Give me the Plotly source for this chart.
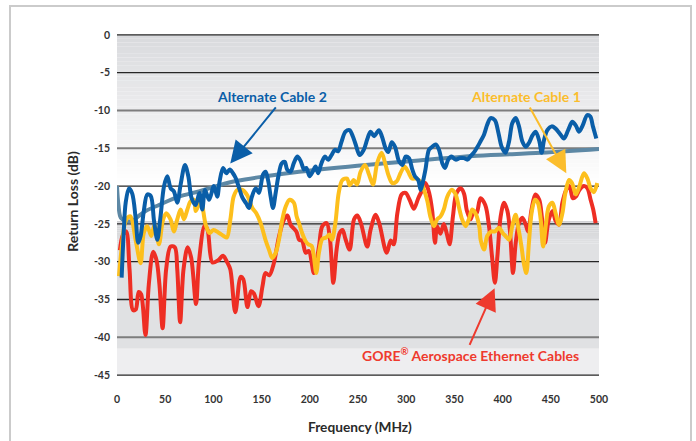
import plotly.graph_objects as go

# ---------------- data ----------------
FREQ_GORE = [3, 6, 9.5, 13, 16.6, 19.5, 22.5, 25, 29.5, 33, 37.5, 41, 44, 47.3, 51, 55.5, 60, 62.5,
             65.5, 69, 73.3, 77, 82, 85, 91, 94, 99, 105, 110, 114, 117.5, 122.7, 128.3, 131, 135.3,
             139, 142, 146.8, 151, 154, 158, 162.5, 168, 173, 176.7, 180, 186, 189, 192, 195.7, 199,
             204.3, 209.5, 213, 217.5, 221, 224.4, 227.8, 231, 234, 237, 241.3, 245.9, 249.3, 253,
             259.6, 263, 268.3, 272, 279.7, 284, 287, 290.8, 295.3, 299.4, 303.5, 308, 312.5, 316.7,
             320, 324, 327, 329.9, 332, 335.5, 339, 342.5, 345, 348.5, 352, 356.5, 360, 363, 366.8,
             370, 373, 377, 382, 385.9, 389, 392, 394.6, 398, 401.5, 405, 407.8, 410.8, 413.6, 417,
             420.5, 424, 426.5, 430, 434, 438, 441, 444, 447.6, 451.7, 455, 458.5, 462, 466, 469.5,
             472.8, 476, 479.7, 484.4, 488, 491.3, 494, 496.5]
RL_GORE = [-28.5, -26.5, -26.0, -31, -36.4, -36.3, -34.0, -34.3, -39.7, -33, -28.7, -29.8, -33, -38.8,
           -31, -28.0, -28.1, -31, -38.0, -31, -28.1, -29.5, -35.6, -30, -25.2, -25.8, -30.1, -29.8,
           -29.2, -30, -31.0, -36.7, -32.0, -32.3, -36.0, -33.9, -34.2, -35.9, -33.2, -31.5, -31.8,
           -30.3, -26.7, -24.5, -23.9, -25.1, -26.0, -27.1, -27.2, -28.8, -28.6, -31.5, -28.0, -25.3,
           -24.9, -27.1, -32.8, -28.4, -26.2, -25.8, -27.0, -28.4, -24.4, -23.9, -24.9, -28.0, -25.8,
           -23.8, -24.9, -28.8, -27.2, -27.7, -23.6, -21.1, -20.9, -21.8, -23.0, -21.6, -20.5, -19.6,
           -21.0, -23.3, -27.5, -25.3, -26.3, -25.0, -26.5, -27.7, -24.0, -21.0, -20.3, -21.0, -23.3,
           -24.4, -23.3, -23.6, -21.6, -22.5, -25.3, -29.3, -32.8, -29.3, -24.0, -22.2, -23.3, -26.2,
           -31.5, -27.5, -24.9, -24.2, -25.1, -26.0, -23.1, -21.1, -21.8, -24.4, -27.5, -24.6, -23.3,
           -24.6, -25.1, -22.2, -20.5, -20.0, -21.6, -21.4, -20.5, -20.0, -20.3, -21.8, -23.1, -24.9]

FREQ_ALT1 = [2, 5, 8, 10.7, 14, 19.3, 24.5, 27.8, 31.4, 35.5, 39, 43.5, 47.5, 51, 55.5, 59, 62.5, 66,
             69.5, 73, 76.4, 80, 81.5, 84, 87, 92, 96, 100, 105.8, 110.6, 114, 117.6, 121, 124.8, 130,
             135, 140.4, 144.5, 149, 154, 157.6, 161, 164.7, 168, 171.5, 175, 179, 183.5, 186.3, 188.8,
             192, 195.7, 198.5, 201.8, 204, 206.7, 209.5, 213, 217, 220.5, 223, 226.5, 230, 233.7,
             238.6, 241.4, 245.6, 249, 252.7, 257.2, 261.5, 265.5, 270, 274.5, 278.6, 282, 285.6, 290,
             294, 298.3, 302, 306, 310.3, 314.8, 318.5, 322, 325, 328.8, 332, 335.6, 339, 342.6, 347,
             351, 354.5, 358, 361.6, 365, 368.5, 372.6, 376, 377.2, 380.7, 384, 388, 392, 396.3, 400,
             403, 406.7, 410, 413.5, 416, 419.6, 422, 424.6, 427.3, 430, 433.6, 436.6, 439.5, 442,
             444.7, 448, 451.7, 455, 458.5, 462, 465, 468.9, 472, 476, 479.7, 484.4, 488, 491.3,
             494.7, 498.2]
RL_ALT1 = [-31.9, -28, -25, -24.2, -24.0, -27.1, -30.2, -26.2, -25.3, -26.6, -25.1, -27.7, -24.6, -23.6,
           -24.4, -26.0, -24.4, -23.1, -24.4, -23.1, -22.0, -21.8, -23.3, -22.7, -21.9, -25.1, -26.2,
           -25.8, -26.2, -26.6, -26.8, -24.4, -21.4, -20.5, -20.5, -21.2, -22.9, -23.6, -24.9, -27.1,
           -28.4, -29.5, -28.8, -27.1, -24.4, -22.7, -21.8, -22.2, -24.0, -24.9, -26.2, -27.3, -27.7,
           -27.9, -29.1, -31.5, -28.8, -27.0, -26.8, -26.4, -27.1, -24.9, -20.9, -19.2, -19.0, -19.9,
           -19.2, -19.8, -18.1, -17.2, -18.5, -19.8, -16.9, -15.6, -17.2, -18.7, -19.6, -19.4, -18.3,
           -17.4, -18.1, -19.0, -19.0, -19.4, -20.5, -22.0, -24.0, -25.3, -24.4, -24.0, -23.1, -21.4,
           -20.5, -21.0, -22.7, -24.4, -25.3, -24.4, -23.1, -23.8, -25.5, -27.1, -28.4, -26.6, -26.0,
           -26.0, -25.5, -26.2, -26.6, -27.1, -25.3, -23.8, -25.3, -28.0, -30.2, -31.5, -27.5, -23.6,
           -21.8, -22.2, -24.4, -28.0, -25.3, -22.7, -22.2, -23.6, -25.1, -23.6, -21.0, -19.2, -19.6,
           -21.1, -20.0, -18.3, -19.0, -20.3, -20.8, -19.6]

FREQ_ALT2 = [4.8, 7, 9, 12.4, 15.8, 19.3, 22, 24.5, 27.8, 31.4, 35, 38.4, 41.8, 45, 48.8, 52.2, 55.7, 59,
             62.5, 66, 70.5, 74, 77.4, 81.5, 85.6, 88.5, 91.3, 95.5, 100.5, 104, 106.4, 110, 113.4, 117,
             120.3, 123, 126.5, 130, 134, 137, 139.7, 143.8, 147.3, 151.4, 154.2, 157, 159.4, 161.8,
             164.6, 167.4, 170.8, 174, 176.5, 180, 183.3, 187, 190.6, 194, 196.4, 199.8, 203, 206,
             208.7, 212, 215.6, 219, 222.5, 226, 229.4, 233, 237, 241.2, 244.6, 247.6, 251.7, 256,
             259.6, 263, 266.7, 271.7, 275, 278.6, 281.4, 285, 288.4, 292.5, 296, 299.4, 302.8, 306.3,
             309, 312.5, 315, 317.4, 320, 323.6, 327, 330.6, 334, 337.5, 340.2, 343.6, 347, 351.3,
             355.5, 360, 363.5, 367, 370, 374, 377, 380.7, 384, 387.5, 392, 395.4, 399, 403, 406.7,
             410, 413.6, 417, 420.5, 424, 427.3, 431, 434.3, 438, 440.5, 443, 446.4, 451, 455, 459,
             463.6, 468, 472.3, 476, 479.3, 483, 487.8, 491, 493.7, 497.2]
RL_ALT2 = [-32.1, -26, -22.2, -20.3, -21.0, -24.2, -27.5, -26.6, -23.3, -21.1, -21.3, -24.6, -27.1, -24.2,
           -20.0, -18.7, -20.3, -20.7, -22.2, -19.8, -17.2, -18.7, -21.6, -22.5, -20.9, -23.1, -20.5,
           -21.8, -20.0, -21.4, -19.4, -17.6, -18.3, -17.8, -18.3, -18.9, -20.2, -21.5, -22.3, -22.9,
           -21.5, -20.3, -20.9, -18.5, -18.1, -19.4, -21.4, -22.9, -20.9, -18.7, -17.0, -16.8, -17.8,
           -18.1, -17.0, -16.1, -16.7, -17.8, -17.6, -18.7, -18.1, -17.4, -18.3, -17.0, -16.1, -16.5,
           -15.9, -15.2, -15.4, -14.1, -12.8, -12.6, -13.4, -14.5, -15.9, -15.2, -13.8, -12.8, -13.4,
           -12.6, -13.5, -15.0, -15.5, -14.2, -14.8, -16.7, -17.2, -16.1, -16.3, -17.8, -18.7, -19.2,
           -20.5, -19.4, -17.8, -15.2, -14.8, -14.5, -15.2, -17.0, -17.6, -16.5, -16.1, -16.5, -16.3,
           -16.3, -16.5, -16.0, -15.6, -14.8, -14.1, -13.2, -11.9, -11.0, -11.3, -12.8, -14.8, -15.6,
           -14.1, -11.7, -11.0, -12.1, -14.1, -14.8, -14.3, -13.3, -12.8, -14.0, -15.6, -13.9, -12.6,
           -12.1, -12.4, -13.0, -13.7, -12.6, -11.5, -12.0, -12.8, -12.0, -10.6, -10.8, -12.1, -13.7]

FREQ_LIMIT = [0, 1.5, 4, 9, 15.8, 22, 29.7, 43.5, 64.3, 85, 105.8, 124.8, 154, 188.8, 249.3, 313,
              373.8, 440, 500]
RL_LIMIT = [-20, -22.5, -24.2, -24.6, -24.6, -24.0, -23.3, -22.5, -21.4, -20.7, -19.9, -19.3, -18.7,
            -18.1, -17.3, -16.6, -16.0, -15.6, -15.1]

X_TICKS = [0, 50, 100, 150, 200, 250, 300, 350, 400, 450, 500]
Y_TICKS = [0, -5, -10, -15, -20, -25, -30, -35, -40, -45]
LIGHT_GRID = [-10, -15, -40]

# ---------------- styling ----------------
BLUE = "#0a5ea8"
YELLOW = "#fdbf1c"
RED = "#ee2e24"
STEEL = "#5d88a5"
FONT = "Lato"
W, H = 696, 441
ML, MR, MT, MB = 117, 97, 33, 64
Y_RANGE = [-45.25, 0.25]


def px_to_paper(px, py):
    pw = W - ML - MR
    ph = H - MT - MB
    return (px - ML) / pw, (H - MB - py) / ph


def mix(c1, c2, t):
    return "rgb(%d,%d,%d)" % tuple(round(a + (b - a) * t) for a, b in zip(c1, c2))


shapes = []

# background: gradient from gray at 0 dB fading to white near -20 dB
top_c, white = (217, 218, 221), (255, 255, 255)
steps = 40
for i in range(steps):
    y0 = -20 * i / steps
    y1 = -20 * (i + 1) / steps
    shapes.append(dict(type="rect", xref="paper", yref="y", x0=0, x1=1, y0=y0, y1=y1,
                       fillcolor=mix(top_c, white, (i + 0.5) / steps), line_width=0, layer="below"))
# lower gray band with a short shaded edge
edge_c, band_c = (208, 209, 212), (224, 225, 227)
steps = 12
for i in range(steps):
    y0 = -24.6 - 3.0 * i / steps
    y1 = -24.6 - 3.0 * (i + 1) / steps
    shapes.append(dict(type="rect", xref="paper", yref="y", x0=0, x1=1, y0=y0, y1=y1,
                       fillcolor=mix(edge_c, band_c, (i + 0.5) / steps), line_width=0, layer="below"))
shapes.append(dict(type="rect", xref="paper", yref="y", x0=0, x1=1, y0=-27.6, y1=-41.5,
                   fillcolor="rgb(224,225,227)", line_width=0, layer="below"))
shapes.append(dict(type="rect", xref="paper", yref="y", x0=0, x1=1, y0=-41.5, y1=-45,
                   fillcolor="rgb(238,238,240)", line_width=0, layer="below"))

# horizontal grid lines
for v in Y_TICKS:
    light = v in LIGHT_GRID
    shapes.append(dict(type="line", xref="paper", yref="y", x0=0, x1=1, y0=v, y1=v,
                       line=dict(color="#7d7d7d" if light else "#262626", width=2 if light else 1.3),
                       layer="below"))

# outer frame
fx0, fy0 = px_to_paper(10, 6)
fx1, fy1 = px_to_paper(691, 450)
shapes.append(dict(type="rect", xref="paper", yref="paper", x0=fx0, x1=fx1, y0=fy1, y1=fy0,
                   line=dict(color="#cbcbcb", width=2), fillcolor="rgba(0,0,0,0)", layer="below"))

fig = go.Figure()
fig.add_trace(go.Scatter(x=FREQ_LIMIT, y=RL_LIMIT, mode="lines", name="Limit",
                         line=dict(color=STEEL, width=4, shape="spline", smoothing=1.0)))
fig.add_trace(go.Scatter(x=FREQ_GORE, y=RL_GORE, mode="lines", name="GORE",
                         line=dict(color=RED, width=4, shape="spline", smoothing=0.9)))
fig.add_trace(go.Scatter(x=FREQ_ALT1, y=RL_ALT1, mode="lines", name="Alternate Cable 1",
                         line=dict(color=YELLOW, width=4, shape="spline", smoothing=0.9)))
fig.add_trace(go.Scatter(x=FREQ_ALT2, y=RL_ALT2, mode="lines", name="Alternate Cable 2",
                         line=dict(color=BLUE, width=4, shape="spline", smoothing=0.9)))

annotations = []


def label(text, px, py, color, size=14):
    x, y = px_to_paper(px, py)
    annotations.append(dict(text=text, xref="paper", yref="paper", x=x, y=y, showarrow=False,
                            xanchor="center", yanchor="middle",
                            font=dict(family=FONT, size=size, color=color, weight="bold")))


def arrow(tail, tip, color):
    annotations.append(dict(text="", xref="x", yref="y", axref="x", ayref="y",
                            x=tip[0], y=tip[1], ax=tail[0], ay=tail[1], showarrow=True,
                            arrowhead=2, arrowsize=2.2, arrowwidth=2, arrowcolor=color, standoff=0))


label("Alternate Cable 2", 271.7, 96.7, BLUE)
arrow((166, -9.4), (117.5, -17.0), BLUE)
label("Alternate Cable 1", 526, 96.7, "#fbbd2c")
arrow((427.4, -9.4), (466.1, -18.3), "#fbbd2c")
label("GORE<sup>®</sup> Aerospace Ethernet Cables", 470.5, 354, "#ee3a2e")
arrow((365.1, -41.2), (391.7, -33.5), "#ee3a2e")

# axis titles
tx, ty = px_to_paper(71.7, 201)
annotations.append(dict(text="Return Loss (dB)", xref="paper", yref="paper", x=tx, y=ty,
                        textangle=-90, showarrow=False, xanchor="center", yanchor="middle",
                        font=dict(family=FONT, size=14, color="#2a2a2a", weight="bold")))
tx, ty = px_to_paper(360, 426)
annotations.append(dict(text="Frequency (MHz)", xref="paper", yref="paper", x=tx, y=ty,
                        showarrow=False, xanchor="center", yanchor="middle",
                        font=dict(family=FONT, size=13.7, color="#2a2a2a", weight="bold")))

tick_font = dict(family=FONT, size=10.5, color="#333333", weight="bold")
fig.update_layout(
    width=W, height=H,
    margin=dict(l=ML, r=MR, t=MT, b=MB),
    paper_bgcolor="white", plot_bgcolor="white",
    showlegend=False,
    shapes=shapes,
    annotations=annotations,
    xaxis=dict(range=[0, 500], tickvals=X_TICKS, ticktext=[str(v) for v in X_TICKS],
               showgrid=False, zeroline=False, showline=False, ticks="",
               tickfont=tick_font, ticklabelstandoff=14),
    yaxis=dict(range=Y_RANGE, tickvals=Y_TICKS, ticktext=[str(v) for v in Y_TICKS],
               showgrid=False, zeroline=False, showline=False, ticks="",
               tickfont=tick_font, ticklabelstandoff=6),
)

fig.write_html("out.html")
